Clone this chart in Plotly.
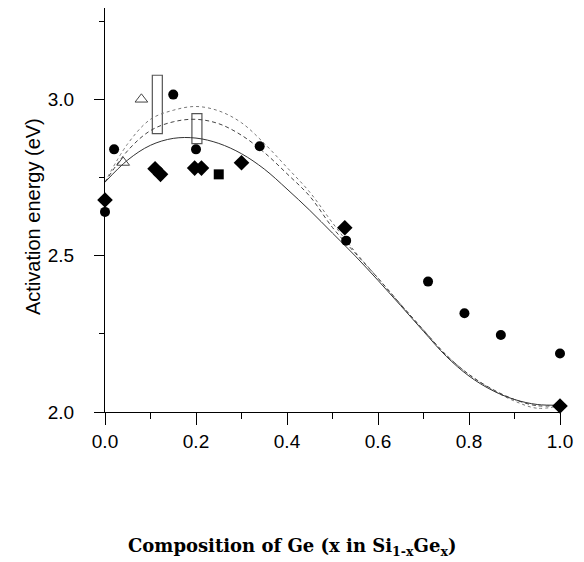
import plotly.graph_objects as go

# ---- data ----
curve_x = [0.0, 0.05, 0.10, 0.15, 0.20, 0.25, 0.30, 0.35, 0.40, 0.45, 0.50,
           0.55, 0.60, 0.65, 0.70, 0.75, 0.80, 0.85, 0.90, 0.95, 1.00]
solid_y = [2.735, 2.806, 2.853, 2.875, 2.876, 2.859, 2.826, 2.777, 2.713, 2.645, 2.572,
           2.499, 2.421, 2.340, 2.258, 2.178, 2.115, 2.070, 2.040, 2.024, 2.022]
dashed_y = [2.735, 2.836, 2.900, 2.928, 2.936, 2.922, 2.885, 2.830, 2.762, 2.690, 2.590,
            2.508, 2.428, 2.344, 2.262, 2.182, 2.120, 2.074, 2.040, 2.020, 2.022]
dotted_y = [2.735, 2.858, 2.936, 2.965, 2.977, 2.963, 2.925, 2.859, 2.782, 2.703, 2.605,
            2.512, 2.428, 2.344, 2.262, 2.182, 2.120, 2.072, 2.035, 2.012, 2.020]

circle_x = [0.0, 0.02, 0.15, 0.20, 0.34, 0.53, 0.71, 0.79, 0.87, 1.0]
circle_y = [2.64, 2.84, 3.015, 2.84, 2.85, 2.548, 2.417, 2.316, 2.246, 2.187]

diamond_x = [0.0, 0.11, 0.122, 0.197, 0.212, 0.30, 0.527, 1.0]
diamond_y = [2.678, 2.778, 2.76, 2.78, 2.78, 2.797, 2.589, 2.019]

square_x = [0.25]
square_y = [2.76]

triangle_x = [0.04, 0.08]
triangle_y = [2.798, 3.0]

rect_x = [0.115, 0.202]
rect_low = [2.89, 2.858]
rect_high = [3.077, 2.954]

x_ticks = [0.0, 0.2, 0.4, 0.6, 0.8, 1.0]
y_ticks = [2.0, 2.5, 3.0]

fig = go.Figure()

fig.add_trace(go.Bar(
    x=rect_x, base=rect_low, y=[h - l for h, l in zip(rect_high, rect_low)],
    width=0.022, marker=dict(color="rgba(0,0,0,0)", line=dict(color="#555", width=1.2)),
    hoverinfo="skip"))

fig.add_trace(go.Scatter(x=curve_x, y=dotted_y, mode="lines", line_shape="spline",
                         line=dict(color="#777", width=1, dash="dot")))
fig.add_trace(go.Scatter(x=curve_x, y=dashed_y, mode="lines", line_shape="spline",
                         line=dict(color="#444", width=1, dash="4px,3px")))
fig.add_trace(go.Scatter(x=curve_x, y=solid_y, mode="lines", line_shape="spline",
                         line=dict(color="#333", width=1)))

fig.add_trace(go.Scatter(x=circle_x, y=circle_y, mode="markers", cliponaxis=False,
                         marker=dict(symbol="circle", size=10, color="black")))
fig.add_trace(go.Scatter(x=diamond_x, y=diamond_y, mode="markers", cliponaxis=False,
                         marker=dict(symbol="diamond", size=12, color="black")))
fig.add_trace(go.Scatter(x=square_x, y=square_y, mode="markers", cliponaxis=False,
                         marker=dict(symbol="square", size=10, color="black")))
fig.add_trace(go.Scatter(x=triangle_x, y=triangle_y, mode="markers", cliponaxis=False,
                         marker=dict(symbol="triangle-up-open", size=11, color="#444",
                                     line=dict(width=1))))

tickfont = dict(family="Liberation Sans, Arial, sans-serif", size=19, color="black")

fig.update_layout(
    width=584, height=562,
    margin=dict(l=97, r=32, t=0, b=158),
    paper_bgcolor="white", plot_bgcolor="white",
    showlegend=False, barmode="overlay",
    xaxis=dict(range=[0, 1], tickvals=x_ticks, ticktext=[f"{v:.1f}" for v in x_ticks],
               showline=True, linecolor="black", linewidth=1, showgrid=False, zeroline=False,
               ticks="outside", ticklen=12, tickcolor="black", tickwidth=1,
               minor=dict(dtick=0.1, ticklen=6, tickcolor="black", tickwidth=1, ticks="outside"),
               tickfont=tickfont),
    yaxis=dict(range=[2.0, 3.292], tickvals=y_ticks, ticktext=[f"{v:.1f}" for v in y_ticks],
               showline=True, linecolor="black", linewidth=1, showgrid=False, zeroline=False,
               ticks="outside", ticklen=10, tickcolor="black", tickwidth=1,
               minor=dict(dtick=0.25, ticklen=5, tickcolor="black", tickwidth=1, ticks="outside"),
               tickfont=tickfont, ticklabelstandoff=16),
    annotations=[
        dict(text="Activation energy (eV)", xref="paper", yref="paper",
             x=-0.158, y=0.483, xanchor="center", yanchor="middle", textangle=-90,
             showarrow=False, font=dict(family="Liberation Sans, Arial, sans-serif", size=20, color="black")),
        dict(text="Composition of Ge (x in Si<sub>1-x</sub>Ge<sub>x</sub>)", xref="paper", yref="paper",
             x=(284 - 97) / 455, y=-135 / 404, xanchor="center", yanchor="middle",
             showarrow=False, font=dict(family="DejaVu Serif, serif", size=18, color="black", weight="bold")),
    ],
)

fig.write_html("out.html")
